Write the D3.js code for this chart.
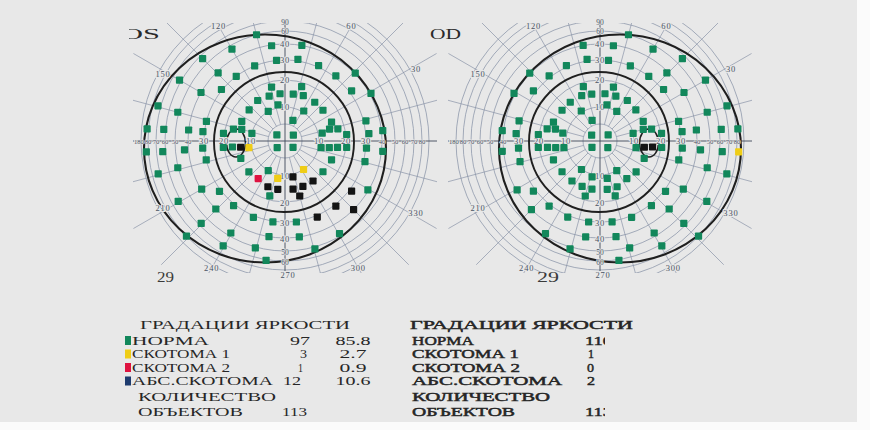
<!DOCTYPE html>
<html><head><meta charset="utf-8">
<script src="https://cdn.jsdelivr.net/npm/d3@7"></script>
<style>body{margin:0;background:#fff}svg{display:block}</style>
</head><body><svg id="c" width="870" height="430"></svg>
<script>
// ---------------- DATA ----------------
const eyes = ["OS", "OD"];
const ringDegrees = [5, 10, 20, 30, 40, 50, 60, 70, 80, 90];
const axisRingLabels = [10, 20, 30, 40, 50, 60, 70, 80];
const meridianLabels = [30, 60, 90, 120, 150, 210, 240, 270, 300, 330];
// test locations (OD orientation): meridian angle (deg) and eccentricity (deg)
const pointAngle = [75,100,82,60,99,84,114,68,45,136,
  128,53,45.5,30,151,143,107,76,39,30,
  112,100,84,70.5,127.5,56,79,15.5,141,122,
  60.5,41,15,166,158,167,165,111,24.5,15,
  13,14,174,175,174,168,145,37,13,7,
  6.5,6.5,5.5,5,186,185,186,187,188.5,190.5,
  218,320,349.5,352,353.5,354,355,355,355,355.5,
  194.5,202,338.5,346.5,219,237,299.5,319.5,346,345.5,
  235,257.5,281,305.5,210.5,217,248.5,260.5,278.5,290.5,
  255,285.5,322.5,330,330.5,225,232,247,262,278.5,
  292.5,308.5,315.5,315.5,239.5,261.5,279.5,300.5,316,254.5,
  285.5,300.5,279];
const pointEcc = [50,40,39.5,47,31,30,31,30,56.5,40.5,
  31,30,39,62,41,31.5,18.5,18,30.5,40,
  15.5,15,15,15,15.5,15.5,11,73.5,15.5,10.5,
  10,15,51,31.5,16,17.5,14.5,6.5,15,14,
  17,30,41,32,20.5,11.5,3,3,10,20.5,
  31,40,62,82,41,30.5,20.5,17,14,11,
  3,3,11,14,17,20.5,31,43,63,83,
  31,16,15,30,15.5,10,10,15,50.5,72.5,
  15.5,11,11.5,14.5,39.5,31.5,15.5,15.5,15.5,15.5,
  18.5,18.5,31,39.5,63,40,31,31,30.5,30.5,
  31,31,40,57.5,48,40,40,47.5,80,52,
  51,62,61];
// points that are not "НОРМА" (indices into the lists above)
const osScotoma1Idx = [62, 75, 82];
const osScotoma2Idx = [83];
const osAbsoluteIdx = [63, 80, 81, 85, 86, 87, 88, 89, 90, 95, 96, 97];
const odScotoma1Idx = [69];
const odScotoma2Idx = [];
const odAbsoluteIdx = [63, 64];
// legend
const legendTitle = "ГРАДАЦИИ ЯРКОСТИ";
const legendLabels = ["НОРМА", "СКОТОМА 1", "СКОТОМА 2", "АБС.СКОТОМА"];
const osCounts = [97, 3, 1, 12];
const osPercents = [85.8, 2.7, 0.9, 10.6];
const odCounts = [110, 1, 0, 2];
const objectTotals = [113, 113];
const totalLabel = ["КОЛИЧЕСТВО", "ОБЪЕКТОВ"];
const chartNumbers = [29, 29];

// ---------------- STYLE / LAYOUT ----------------
const catColor = ["#12875b", "#efcd16", "#de1340", "#141414"];
const swatchColor = ["#12875b", "#efcd16", "#de1340", "#1d3b6e"];
const BG = "#e8e8e8";
const gridCol = "#8994a8", axisCol = "#3e4759", labCol = "#4a5364";
const serif = "'Liberation Serif','DejaVu Serif',serif";

const svg = d3.select("#c");
svg.append("rect").attr("width", 870).attr("height", 430).attr("fill", "#fbfbfb");
svg.append("rect").attr("width", 857).attr("height", 422).attr("fill", BG);

const rScale = d3.scaleLinear()
  .domain([0, 5, 10, 20, 30, 40, 50, 60, 70, 80, 90])
  .range([0, 17, 34, 61, 81, 97, 110, 120, 129, 137, 144]);

const layout = { OS: { cx: 285, cy: 141, dir: -1 }, OD: { cx: 600, cy: 141, dir: 1 } };

const defs = svg.append("defs");

function catOf(eye) {
  const c = new Array(pointAngle.length).fill(0);
  const s1 = eye === "OS" ? osScotoma1Idx : odScotoma1Idx;
  const s2 = eye === "OS" ? osScotoma2Idx : odScotoma2Idx;
  const ab = eye === "OS" ? osAbsoluteIdx : odAbsoluteIdx;
  s1.forEach(i => c[i] = 1); s2.forEach(i => c[i] = 2); ab.forEach(i => c[i] = 3);
  return c;
}

eyes.forEach((eye, ei) => {
  const L = layout[eye];
  const { cx, cy, dir } = L;
  const g = svg.append("g");
  const clipId = "clip" + eye;
  defs.append("clipPath").attr("id", clipId).append("rect")
    .attr("x", cx - 152).attr("y", cy - 118).attr("width", 304).attr("height", 250);
  const grid = g.append("g").attr("clip-path", `url(#${clipId})`);

  // rings
  grid.selectAll("circle.ring").data(ringDegrees).join("circle")
    .attr("cx", cx).attr("cy", cy).attr("r", d => rScale(d))
    .attr("fill", "none").attr("stroke", gridCol).attr("stroke-width", 0.75);
  // meridians every 15 deg
  const mer = d3.range(0, 360, 15).filter(a => a % 90 !== 0);
  grid.selectAll("line.mer").data(mer).join("line")
    .attr("x1", a => cx + rScale(5) * Math.cos(a * Math.PI / 180))
    .attr("y1", a => cy - rScale(5) * Math.sin(a * Math.PI / 180))
    .attr("x2", a => cx + 175 * Math.cos(a * Math.PI / 180))
    .attr("y2", a => cy - 175 * Math.sin(a * Math.PI / 180))
    .attr("stroke", gridCol).attr("stroke-width", 0.7);
  // axes
  g.append("line").attr("x1", cx - 152).attr("x2", cx + 152).attr("y1", cy).attr("y2", cy)
    .attr("stroke", axisCol).attr("stroke-width", 0.9);
  g.append("line").attr("x1", cx).attr("x2", cx).attr("y1", cy - 118).attr("y2", cy + 130)
    .attr("stroke", axisCol).attr("stroke-width", 0.9);

  // isopters
  g.append("ellipse").attr("cx", cx + dir * 20).attr("cy", cy + 7.5).attr("rx", 121).attr("ry", 114)
    .attr("fill", "none").attr("stroke", "#1f1f1f").attr("stroke-width", 2.1);
  g.append("circle").attr("cx", cx - 1).attr("cy", cy + 1).attr("r", 70)
    .attr("fill", "none").attr("stroke", "#1f1f1f").attr("stroke-width", 1.9);
  g.append("ellipse").attr("cx", cx + dir * 49).attr("cy", cy + 2).attr("rx", 9.5).attr("ry", 14)
    .attr("fill", "none").attr("stroke", "#1f1f1f").attr("stroke-width", 1.6);

  // labels
  const lab = (x, y, t, anchor, fs) => g.append("text").attr("x", x).attr("y", y)
    .attr("text-anchor", anchor || "middle").attr("dominant-baseline", "central")
    .attr("font-family", serif).attr("font-size", fs || 8.5).attr("letter-spacing", fs ? 0 : 0.8)
    .attr("fill", labCol).attr("stroke", BG).attr("stroke-width", fs ? 1.2 : 2).attr("paint-order", "stroke")
    .text(t);
  axisRingLabels.forEach(d => {
    const small = d >= 40 ? 6.6 : null;
    lab(cx + rScale(d), cy, d, "middle", small);
    lab(cx - rScale(d), cy, d, "middle", small);
    if (d <= 40) lab(cx, cy - rScale(d), d);
    if (d <= 60) lab(cx, cy + rScale(d) + 1, d, "middle", d >= 50 ? 7.5 : null);
  });
  lab(cx, cy - 110, 60, "middle", 7.5);
  lab(cx - 151, cy, 180, "start", 6.6);
  meridianLabels.forEach(m => {
    const a = m * Math.PI / 180;
    let x, y;
    if (m === 90) { x = cx; y = cy - 119; }
    else if (m === 270) { x = cx + 3; y = cy + 134; }
    else if (Math.abs(Math.sin(a)) > 0.8) {
      const yy = Math.sin(a) > 0 ? 115 : -127;
      x = cx + yy / Math.tan(a); y = cy - yy;
    } else {
      const rr = 146 + 6 * Math.cos(a);
      x = cx + rr * Math.cos(a); y = cy - rr * Math.sin(a) * 0.95;
    }
    lab(x, y, m, "middle", m === 90 ? 7.5 : null);
  });

  // test points
  const cats = catOf(eye);
  const pts = pointAngle.map((a, i) => ({ a: dir === 1 ? a : 180 - a, e: pointEcc[i], c: cats[i] }));
  g.selectAll("rect.pt").data(pts).join("rect")
    .attr("x", d => cx + rScale(d.e) * Math.cos(d.a * Math.PI / 180) - 3.6)
    .attr("y", d => cy - rScale(d.e) * Math.sin(d.a * Math.PI / 180) - 3.6)
    .attr("width", 7.2).attr("height", 7.2).attr("rx", 0.8)
    .attr("fill", d => catColor[d.c]);

  // chart number
  svg.append("text").attr("x", eye === "OS" ? 157 : 537).attr("y", 282)
    .attr("font-family", serif).attr("font-size", 14).attr("fill", "#3a3a3a")
    .attr("textLength", eye === "OS" ? 17 : 22).attr("lengthAdjust", "spacingAndGlyphs")
    .text(chartNumbers[ei]);
});

// eye titles
defs.append("clipPath").attr("id", "clipTitle").append("rect").attr("x", 129).attr("y", 0).attr("width", 200).attr("height", 60);
svg.append("text").attr("x", 121).attr("y", 39).attr("clip-path", "url(#clipTitle)")
  .attr("font-family", serif).attr("font-size", 15).attr("fill", "#2a2a2a")
  .attr("textLength", 39).attr("lengthAdjust", "spacingAndGlyphs").text("OS");
svg.append("text").attr("x", 430).attr("y", 39)
  .attr("font-family", serif).attr("font-size", 15).attr("fill", "#2a2a2a")
  .attr("textLength", 31).attr("lengthAdjust", "spacingAndGlyphs").text("OD");

// ---------------- LEGENDS ----------------
const rowY = [344.5, 358, 371.5, 385];
function txt(x, y, t, opt) {
  const s = svg.append("text").attr("x", x).attr("y", y).attr("font-family", serif)
    .attr("font-size", opt.fs || 12).attr("fill", "#262626")
    .attr("text-anchor", opt.anchor || "start").text(t);
  if (opt.bold) s.attr("stroke", "#262626").attr("stroke-width", 0.45);
  if (opt.len) s.attr("textLength", opt.len).attr("lengthAdjust", "spacingAndGlyphs");
  if (opt.clip) s.attr("clip-path", opt.clip);
  return s;
}
// left (OS)
txt(140, 329, legendTitle, { len: 210 });
const lenL = [77, 98, 98, 141];
const countX = [290, 300, 298, 283];
const countLen = [20, 7, 5, 18];
legendLabels.forEach((l, i) => {
  svg.append("rect").attr("x", 125).attr("y", rowY[i] - 8.5).attr("width", 6).attr("height", 9)
    .attr("fill", swatchColor[i]);
  txt(132, rowY[i], l, { len: lenL[i] });
  txt(countX[i], rowY[i], osCounts[i], { len: countLen[i], fs: 12.5 });
  txt(353, rowY[i], d3.format(".1f")(osPercents[i]), { anchor: "middle", len: i === 0 || i === 3 ? 35 : 27 });
});
txt(138, 401, totalLabel[0], { len: 138 });
txt(138, 416, totalLabel[1], { len: 105 });
txt(282, 416, objectTotals[0], { len: 25, fs: 12.5 });

// right (OD)
defs.append("clipPath").attr("id", "clipVal").append("rect").attr("x", 0).attr("y", 0).attr("width", 605).attr("height", 430);
txt(410, 329, legendTitle, { len: 223, bold: true });
const lenR = [62, 107, 108, 150];
const odLen = [27, 6, 7, 8];
const odX = [585, 588, 587, 587];
legendLabels.forEach((l, i) => {
  txt(412, rowY[i], l, { len: lenR[i], bold: true });
  txt(odX[i], rowY[i], odCounts[i], { bold: true, len: odLen[i], fs: 12.5, clip: "url(#clipVal)" });
});
txt(412, 401, totalLabel[0], { len: 138, bold: true });
txt(412, 416, totalLabel[1], { len: 103, bold: true });
txt(585, 416, objectTotals[1], { bold: true, len: 27, fs: 12.5, clip: "url(#clipVal)" });
</script>
</body></html>
